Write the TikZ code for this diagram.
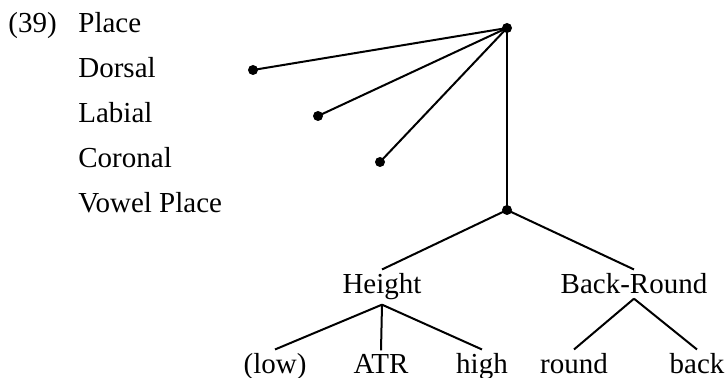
\documentclass[tikz,border=0pt]{standalone}
\usepackage{fontspec}
\setmainfont{Liberation Serif}
\usetikzlibrary{positioning}
\tikzstyle{bullet} = [circle, fill=black, inner sep=0pt, minimum size=5pt]
\tikzstyle{lab} = [anchor=base west, inner sep=0pt]
\tikzstyle{feat} = [anchor=base, inner xsep=0pt, inner ysep=2pt]
\tikzstyle{branch} = [line width=1pt]

\begin{document}
\begin{tikzpicture}[x=0.5pt,y=-0.5pt,font=\fontsize{14.5}{16}\selectfont]
	\useasboundingbox (0,0) rectangle (728,378);
	\node[lab] (num) at (8,33) {(39)};
	\foreach \name [count=\i] in {Place,Dorsal,Labial,Coronal,Vowel Place}
	\node[lab] (l\i) at (78,{33+45*(\i-1)}) {\name};
	\node[bullet] (place) at (507,28) {};
	\node[bullet] (dorsal) at (253,70) {};
	\node[bullet] (labial) at (318,116) {};
	\node[bullet] (coronal) at (380,162) {};
	\node[bullet] (vplace) at (507,210) {};
	\node[feat] (height) at (382,294) {Height};
	\node[feat] (backround) at (634,294) {Back-Round};
	\node[feat] (low) at (275,374) {(low)};
	\node[feat] (atr) at (381,374) {ATR};
	\node[feat] (high) at (482,374) {high};
	\node[feat] (round) at (574,374) {round};
	\node[feat] (back) at (697,374) {back};
	\foreach \n in {dorsal,labial,coronal,vplace}
	\draw[branch] (place.center) -- (\n.center);
	\draw[branch] (vplace.center) -- (height.north);
	\draw[branch] (vplace.center) -- (backround.north);
	\foreach \n in {low,atr,high}
	\draw[branch] (height.south) -- (\n.north);
	\foreach \n in {round,back}
	\draw[branch] (backround.south) -- (\n.north);
\end{tikzpicture}
\end{document}
